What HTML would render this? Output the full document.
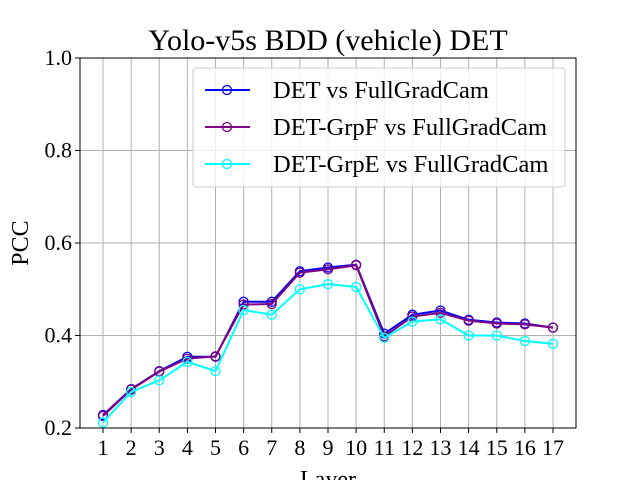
<!DOCTYPE html>
<html><head><meta charset="utf-8"><style>
body{margin:0;background:#fff;}
svg text{font-family:"Liberation Serif",serif;fill:#000;}
</style></head><body>
<svg id="chart" width="640" height="480" xmlns="http://www.w3.org/2000/svg">
<rect width="640" height="480" fill="#fff"/>
<g id="grid"></g><g id="series"></g><g id="axes"></g>
</svg>
<script>
const layers=[1,2,3,4,5,6,7,8,9,10,11,12,13,14,15,16,17];
const detVals=[0.228,0.284,0.323,0.354,0.354,0.473,0.473,0.539,0.547,0.553,0.404,0.445,0.454,0.434,0.428,0.426,0.417];
const grpFVals=[0.226,0.283,0.322,0.350,0.355,0.467,0.468,0.536,0.543,0.552,0.398,0.441,0.449,0.432,0.426,0.424,0.417];
const grpEVals=[0.212,0.278,0.303,0.343,0.323,0.455,0.445,0.500,0.511,0.505,0.395,0.430,0.435,0.400,0.400,0.388,0.382];
const yTicks=[0.2,0.4,0.6,0.8,1.0];
const seriesNames=["DET vs FullGradCam","DET-GrpF vs FullGradCam","DET-GrpE vs FullGradCam"];
const NS="http://www.w3.org/2000/svg";
const L=80,R=576,T=58,B=428;
const xs=v=>103+(v-1)*(553-103)/16;
const ys=v=>B-(v-0.2)/0.8*(B-T);
function mk(p,tag,at){const e=document.createElementNS(NS,tag);for(const k in at)e.setAttribute(k,at[k]);p.appendChild(e);return e;}
const grid=document.getElementById('grid'),ser=document.getElementById('series'),ax=document.getElementById('axes'),svg=document.getElementById('chart');
layers.forEach(v=>{
 const g=mk(grid,'line',{x1:xs(v),x2:xs(v),y1:T,y2:B,stroke:'#b0b0b0','stroke-width':1});
 
 
 mk(ax,'line',{x1:xs(v),x2:xs(v),y1:B,y2:B+5,stroke:'#000'});
 const t=mk(ax,'text',{x:xs(v),y:B+27,'text-anchor':'middle','font-size':22});t.textContent=v;
 
 
});
yTicks.forEach(v=>{
 const g=mk(grid,'line',{x1:L,x2:R,y1:ys(v),y2:ys(v),stroke:'#b0b0b0','stroke-width':1});
 
 
 mk(ax,'line',{x1:L-5,x2:L,y1:ys(v),y2:ys(v),stroke:'#000'});
 const t=mk(ax,'text',{x:L-8,y:ys(v)+7,'text-anchor':'end','font-size':22});t.textContent=v.toFixed(1);
 
 
});
const fr=mk(ax,'rect',{x:L,y:T,width:R-L,height:B-T,fill:'none',stroke:'#000','stroke-width':1});


const sets=[[detVals,'#0000ff','det-series'],[grpFVals,'#800080','grpf-series'],[grpEVals,'#00ffff','grpe-series']];
sets.forEach(([vals,c,n])=>{
 const g=mk(ser,'g',{});
 
 
 mk(g,'polyline',{points:vals.map((v,i)=>xs(layers[i])+','+ys(v)).join(' '),fill:'none',stroke:c,'stroke-width':2});
 vals.forEach((v,i)=>{const p=mk(g,'circle',{cx:xs(layers[i]),cy:ys(v),r:4.5,fill:'none',stroke:c,'stroke-width':1.3});
 
 });
});
const title=mk(svg,'text',{x:328,y:50,'text-anchor':'middle','font-size':30});title.textContent="Yolo-v5s BDD (vehicle) DET";


const yl=mk(svg,'text',{x:28,y:243,'text-anchor':'middle','font-size':24,transform:'rotate(-90 28 243)'});yl.textContent="PCC";


const xl=mk(svg,'text',{x:328,y:487,'text-anchor':'middle','font-size':24});xl.textContent="Layer";


const lg=mk(svg,'g',{});


mk(lg,'rect',{x:193,y:68,width:372,height:119,rx:3,fill:'#fff','fill-opacity':0.8,stroke:'#ccc'});
sets.forEach(([v,c],i)=>{
 const y=90+i*37;
 const e=mk(lg,'g',{});
 
 
 mk(e,'line',{x1:205,x2:250,y1:y,y2:y,stroke:c,'stroke-width':2});
 mk(e,'circle',{cx:227,cy:y,r:4.5,fill:'none',stroke:c,'stroke-width':1.3});
 const t=mk(e,'text',{x:273,y:y+8,'font-size':24.5});t.textContent=seriesNames[i];
});
</script>
</body></html>
